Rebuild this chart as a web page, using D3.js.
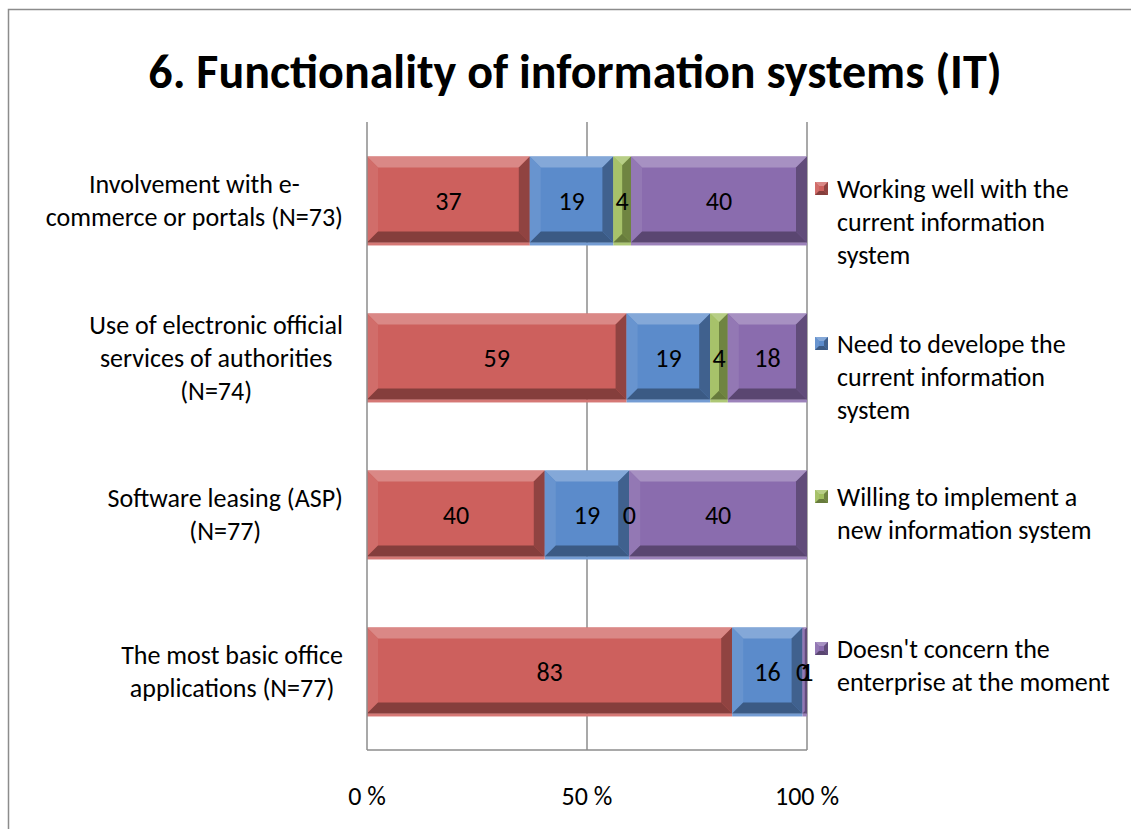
<!DOCTYPE html>
<html>
<head>
<meta charset="utf-8">
<script src="https://cdn.jsdelivr.net/npm/d3@7/dist/d3.min.js"></script>
<style>
  body { margin: 0; background: #fff; }
  svg { font-family: Carlito, Lato, 'Open Sans', sans-serif; }
</style>
</head>
<body>
<svg id="chart" width="1131" height="829"></svg>
<script>
const categories = [
  ['Involvement with e-', 'commerce or portals (N=73)'],
  ['Use of electronic official', 'services of authorities', '(N=74)'],
  ['Software leasing (ASP)', '(N=77)'],
  ['The most basic office', 'applications (N=77)']
];
const seriesNames = [
  ['Working well with the', 'current information', 'system'],
  ['Need to develope the', 'current information', 'system'],
  ['Willing to implement a', 'new information system'],
  ["Doesn't concern the", 'enterprise at the moment']
];
const working = [37, 59, 40, 83];
const develop = [19, 19, 19, 16];
const willing = [4, 4, 0, 0];
const notConcern = [40, 18, 40, 1];
const tickLabels = ['0 %', '50 %', '100 %'];

const colors = ['#cd605d', '#5b8bcb', '#9fbd5d', '#8a6cae'];
const keys = ['s0', 's1', 's2', 's3'];
const values = [working, develop, willing, notConcern];
const fs = 26;

const data = categories.map((c, i) => {
  let row = {cat: i};
  keys.forEach((k, j) => { row[k] = values[j][i]; });
  return row;
});

const svg = d3.select('#chart');
const margin = {top: 122, left: 367, right: 324, bottom: 79};
const width = 1131 - margin.left - margin.right;
const height = 829 - margin.top - margin.bottom;

// outer frame
svg.append('rect')
    .attr('x', 8.5).attr('y', 9.5)
    .attr('width', 1140).attr('height', 840)
    .attr('fill', 'none')
    .attr('stroke', '#8c8c8c')
    .attr('stroke-width', 1.5);

svg.append('text')
    .attr('x', 575).attr('y', 88)
    .attr('text-anchor', 'middle')
    .attr('font-size', 48)
    .attr('font-weight', 'bold')
    .text('6. Functionality of information systems (IT)');

const g = svg.append('g')
    .attr('transform', 'translate(' + margin.left + ',' + margin.top + ')');

const x = d3.scaleLinear().domain([0, 1]).range([0, width]);
const y = d3.scaleBand().domain(data.map((d) => d.cat)).range([0, height]).paddingInner(0.44).paddingOuter(0.22);

// gridlines
g.selectAll('.grid')
    .data([0.5, 1])
    .enter().append('line')
    .attr('x1', (d) => x(d)).attr('x2', (d) => x(d))
    .attr('y1', 0).attr('y2', height)
    .attr('stroke', '#8c8c8c')
    .attr('stroke-width', 1.5);

const stack = d3.stack().keys(keys).offset(d3.stackOffsetExpand);
const series = stack(data);

function shade(c, k) {
  return k > 0 ? d3.interpolateRgb(c, '#ffffff')(k) : d3.interpolateRgb(c, '#000000')(-k);
}

function bevel(sel, x0, y0, w, h, c, b) {
  b = Math.min(b, w / 2, h / 2);
  sel.append('rect').attr('x', x0).attr('y', y0).attr('width', w).attr('height', h).attr('fill', c);
  const polys = [
    [[x0, y0], [x0 + w, y0], [x0 + w - b, y0 + b], [x0 + b, y0 + b], 0.25],
    [[x0, y0], [x0 + b, y0 + b], [x0 + b, y0 + h - b], [x0, y0 + h], 0.08],
    [[x0 + w, y0], [x0 + w, y0 + h], [x0 + w - b, y0 + h - b], [x0 + w - b, y0 + b], -0.3],
    [[x0, y0 + h], [x0 + b, y0 + h - b], [x0 + w - b, y0 + h - b], [x0 + w, y0 + h], -0.35]
  ];
  polys.forEach((p) => {
    sel.append('polygon')
        .attr('points', p.slice(0, 4).map((q) => q.join(',')).join(' '))
        .attr('fill', shade(c, p[4]));
  });
}

series.forEach((s, j) => {
  s.forEach((d) => {
    const x0 = x(d[0]), w = x(d[1]) - x(d[0]);
    const yy = y(d.data.cat);
    if (w > 0) {
      // soft shadow strip under bar
      g.append('rect').attr('x', x0).attr('y', yy + y.bandwidth() - 2)
          .attr('width', w).attr('height', 3).attr('fill', shade(colors[j], 0.15));
      bevel(g.append('g'), x0, yy, w, y.bandwidth() - 2, colors[j], 11);
    }
  });
});

// data labels
series.forEach((s, j) => {
  g.selectAll('.lbl' + j)
      .data(s)
      .enter().append('text')
      .attr('x', (d) => x((d[0] + d[1]) / 2) + (j === 3 && d.data[keys[j]] < 2 ? 2 : 0))
      .attr('y', (d) => y(d.data.cat) + y.bandwidth() / 2)
      .attr('dy', '0.35em')
      .attr('text-anchor', 'middle')
      .attr('font-size', fs)
      .text((d) => d.data[keys[j]]);
});

// axes lines
g.append('line').attr('x1', 0).attr('x2', 0).attr('y1', 0).attr('y2', height)
    .attr('stroke', '#8c8c8c').attr('stroke-width', 1.5);
g.append('line').attr('x1', 0).attr('x2', width).attr('y1', height).attr('y2', height)
    .attr('stroke', '#8c8c8c').attr('stroke-width', 1.5);

// x tick labels
g.selectAll('.tick')
    .data([0, 0.5, 1])
    .enter().append('text')
    .attr('x', (d) => x(d))
    .attr('y', height + 55)
    .attr('text-anchor', 'middle')
    .attr('font-size', fs)
    .text((d, i) => tickLabels[i]);

// category labels
data.forEach((d, i) => {
  const lines = categories[i];
  const t = svg.append('text')
      .attr('font-size', fs)
      .attr('text-anchor', 'middle');
  const spans = lines.map((l) => t.append('tspan').text(l));
  const maxw = d3.max(spans, (s) => s.node().getComputedTextLength());
  const cx = 343 - maxw / 2;
  const cy = margin.top + y(d.cat) + y.bandwidth() / 2;
  const y0 = cy - (lines.length - 1) * 33 / 2;
  spans.forEach((s, k) => {
    s.attr('x', cx).attr('y', y0 + k * 33).attr('dy', '0.35em');
  });
});

// legend
const legendY = [189, 344, 497, 649];
seriesNames.forEach((lines, j) => {
  const lg = svg.append('g');
  bevel(lg, 815, legendY[j] - 7, 13, 13, colors[j], 4);
  const t = lg.append('text').attr('font-size', fs);
  lines.forEach((l, k) => {
    t.append('tspan').attr('x', 837).attr('y', legendY[j] + k * 33).attr('dy', '0.35em').text(l);
  });
});
</script>
</body>
</html>
